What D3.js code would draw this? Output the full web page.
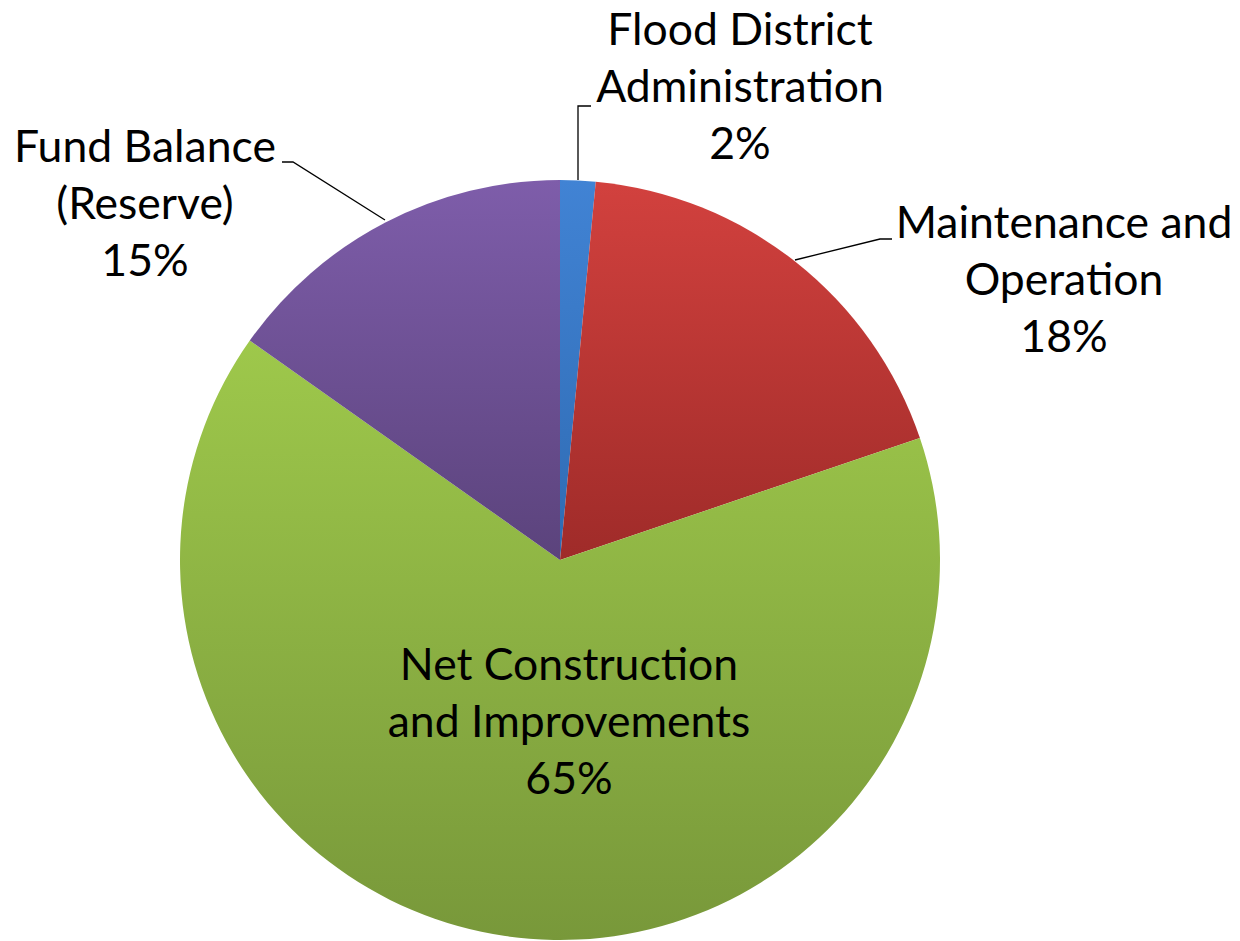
<!DOCTYPE html>
<html lang="en">
<head>
    <meta charset="UTF-8">
    <title>Flood District Budget</title>
    <script src="https://d3js.org/d3.v7.min.js"></script>
    <style>
        body {
            margin: 0;
            padding: 0;
            background: #fff;
        }

        #chart {
            display: block;
        }

        .label {
            font-family: Lato, "Open Sans", sans-serif;
            fill: #000;
        }
    </style>
</head>
<body>
<svg id="chart" width="1240" height="941"></svg>

<script>
    // categories and their shares (percent), clockwise from 12 o'clock
    var categories = ["Flood District Administration", "Maintenance and Operation",
        "Net Construction and Improvements", "Fund Balance (Reserve)"];
    var values = [1.5, 18.3, 65.0, 15.2];
    // how each label is broken into lines
    var labelLines = [
        ["Flood District", "Administration"],
        ["Maintenance and", "Operation"],
        ["Net Construction", "and Improvements"],
        ["Fund Balance", "(Reserve)"]
    ];
    // gradient colors, top -> bottom
    var colorsTop = ["#4183d4", "#d2413e", "#9ec84b", "#7e5daa"];
    var colorsBottom = ["#2f6bb3", "#9f2b29", "#78983a", "#5b437c"];

    var svg = d3.select("#chart");
    var cx = 560, cy = 560, radius = 380;

    var data = categories.map(function(c, i) {
        return { name: c, value: values[i], lines: labelLines[i], i: i };
    });

    // one vertical gradient per slice
    var defs = svg.append("defs");
    data.forEach(function(d) {
        var g = defs.append("linearGradient")
            .attr("id", "grad" + d.i)
            .attr("x1", 0).attr("y1", 0)
            .attr("x2", 0).attr("y2", 1);
        g.append("stop").attr("offset", "0%").attr("stop-color", colorsTop[d.i]);
        g.append("stop").attr("offset", "100%").attr("stop-color", colorsBottom[d.i]);
    });

    var pie = d3.pie()
        .sort(null)
        .value(function(d) { return d.value; });

    var arc = d3.arc()
        .innerRadius(0)
        .outerRadius(radius);

    var arcs = pie(data);

    var g = svg.append("g")
        .attr("transform", "translate(" + cx + "," + cy + ")");

    g.selectAll("path.slice")
        .data(arcs)
        .enter().append("path")
        .attr("class", "slice")
        .attr("d", arc)
        .attr("fill", function(d) { return "url(#grad" + d.data.i + ")"; });

    // label placement (Excel-style best fit), relative to pie center
    var labelPos = [
        { x: 180, y: -515 },   // Flood District Administration
        { x: 504, y: -322 },   // Maintenance and Operation
        { x: 9, y: 120 },      // Net Construction
        { x: -415, y: -398 }   // Fund Balance
    ];
    var lineGap = 57;

    // leader lines: from slice edge to the label
    var leaders = [
        [[18, -380], [18, -454], [31, -454]],
        [[235, -300], [320, -321], [332, -321]],
        null,
        [[-175, -340], [-267, -398], [-278, -398]]
    ];

    var line = d3.line();
    g.selectAll("path.leader")
        .data(leaders.filter(function(l) { return l; }))
        .enter().append("path")
        .attr("class", "leader")
        .attr("d", line)
        .attr("fill", "none")
        .attr("stroke", "#000")
        .attr("stroke-width", 1.3);

    var labels = g.selectAll("text.label")
        .data(arcs)
        .enter().append("text")
        .attr("class", "label")
        .attr("text-anchor", "middle")
        .attr("font-size", 44.5)
        .attr("transform", function(d) {
            var p = labelPos[d.data.i];
            return "translate(" + p.x + "," + p.y + ")";
        });

    labels.each(function(d) {
        var t = d3.select(this);
        var rows = d.data.lines.concat([Math.round(d.data.value) + "%"]);
        rows.forEach(function(r, k) {
            t.append("tspan")
                .attr("x", 0)
                .attr("y", k * lineGap)
                .text(r);
        });
    });
</script>
</body>
</html>
